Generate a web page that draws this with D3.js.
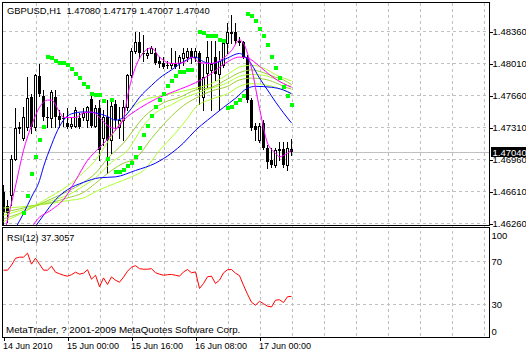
<!DOCTYPE html>
<html>
<head>
<meta charset="utf-8">
<script src="https://cdn.jsdelivr.net/npm/d3@7"></script>
<style>
  body { margin: 0; background: #fff; }
  svg { display: block; font-family: "Liberation Sans", Arial, sans-serif; }
</style>
</head>
<body>
<div id="chart"></div>
<script>
// GBPUSD H1 candles, bar 0 = 14 Jun 2010 08:00
const opens = [
  1.4660, 1.4645, 1.4657, 1.4697, 1.4732, 1.4720, 1.4731, 1.4764, 1.4731, 1.4787,
  1.4766, 1.4743, 1.4741, 1.4764, 1.4744, 1.4741, 1.4736, 1.4733, 1.4733, 1.4741,
  1.4743, 1.4739, 1.4762, 1.4733, 1.4752, 1.4720, 1.4742, 1.4717, 1.4757, 1.4731,
  1.4739, 1.4753, 1.4788, 1.4815, 1.4824, 1.4813, 1.4810, 1.4813, 1.4813, 1.4804,
  1.4802, 1.4799, 1.4799, 1.4801, 1.4802, 1.4807, 1.4808, 1.4815, 1.4808, 1.4813,
  1.4764, 1.4791, 1.4794, 1.4808, 1.4790, 1.4799, 1.4823, 1.4834, 1.4835, 1.4826,
  1.4824, 1.4808, 1.4761, 1.4733, 1.4717, 1.4736, 1.4709, 1.4695, 1.4690, 1.4706,
  1.4708, 1.4690, 1.47080
];
const highs = [
  1.4668, 1.4652, 1.4701, 1.4752, 1.4737, 1.4753, 1.4786, 1.4768, 1.4790, 1.4801,
  1.4772, 1.4753, 1.4772, 1.4772, 1.4750, 1.4747, 1.4752, 1.4741, 1.4753, 1.4747,
  1.4752, 1.4755, 1.4766, 1.4756, 1.4761, 1.4750, 1.4761, 1.4763, 1.4761, 1.4753,
  1.4761, 1.4790, 1.4818, 1.4835, 1.4835, 1.4832, 1.4818, 1.4820, 1.4818, 1.4808,
  1.4808, 1.4804, 1.4818, 1.4815, 1.4810, 1.4818, 1.4818, 1.4818, 1.4818, 1.4815,
  1.4801, 1.4826, 1.4826, 1.4826, 1.4815, 1.4826, 1.4845, 1.4854, 1.4845, 1.4830,
  1.4826, 1.4810, 1.4763, 1.4736, 1.4736, 1.4739, 1.4712, 1.4709, 1.4709, 1.4715,
  1.4715, 1.4715, 1.47179
];
const lows = [
  1.4625, 1.4628, 1.4646, 1.4695, 1.4725, 1.4717, 1.4728, 1.4725, 1.4728, 1.4766,
  1.4739, 1.4731, 1.4731, 1.4731, 1.4731, 1.4733, 1.4730, 1.4730, 1.4731, 1.4730,
  1.4739, 1.4731, 1.4731, 1.4731, 1.4695, 1.4712, 1.4681, 1.4703, 1.4728, 1.4719,
  1.4717, 1.4750, 1.4786, 1.4812, 1.4807, 1.4804, 1.4807, 1.4812, 1.4801, 1.4797,
  1.4796, 1.4796, 1.4796, 1.4796, 1.4796, 1.4799, 1.4804, 1.4802, 1.4804, 1.4757,
  1.4750, 1.4775, 1.4750, 1.4783, 1.4750, 1.4797, 1.4812, 1.4823, 1.4823, 1.4821,
  1.4807, 1.4759, 1.4728, 1.4717, 1.4715, 1.4708, 1.4687, 1.4688, 1.4688, 1.4695,
  1.4688, 1.4684, 1.47007
];
const closes = [
  1.4638, 1.4638, 1.4697, 1.4730, 1.4729, 1.4742, 1.4763, 1.4731, 1.4788, 1.4768,
  1.4742, 1.4741, 1.4770, 1.4742, 1.4739, 1.4740, 1.4731, 1.4735, 1.4750, 1.4731,
  1.4747, 1.4753, 1.4733, 1.4752, 1.4706, 1.4742, 1.4717, 1.4755, 1.4739, 1.4739,
  1.4753, 1.4788, 1.4815, 1.4824, 1.4813, 1.4812, 1.4813, 1.4818, 1.4802, 1.4801,
  1.4797, 1.4798, 1.4802, 1.4797, 1.4808, 1.4813, 1.4815, 1.4807, 1.4815, 1.4772,
  1.4786, 1.4808, 1.4801, 1.4790, 1.4804, 1.4823, 1.4835, 1.4835, 1.4826, 1.4823,
  1.4808, 1.4761, 1.4730, 1.4728, 1.4733, 1.4709, 1.4693, 1.4690, 1.4706, 1.4708,
  1.4690, 1.4709, 1.47040
];

// moving averages, [bar, price]
const maMagentaFast = [[0,1.4611],[1,1.4630],[3,1.4667],[5,1.4706],[7,1.4733],[9,1.4753],[11,1.4761],[12,1.4761],[14,1.4748],[15,1.4742],[18,1.4742],[20,1.4747],[22,1.4748],[24,1.4742],[26,1.4733],[28,1.4730],[30,1.4741],[31,1.4765],[33,1.4797],[35,1.4813],[37,1.4818],[39,1.4808],[42,1.4801],[45,1.4802],[47,1.4808],[49,1.4802],[52,1.4801],[55,1.4807],[57,1.4815],[59,1.4827],[60,1.4823],[62,1.4796],[64,1.4752],[66,1.4714],[68,1.4703],[69,1.4699],[71,1.4703],[72,1.4706]];
const maMagentaSlow = [[7,1.4621],[8,1.4628],[12,1.4641],[15,1.4652],[18,1.4673],[21,1.4695],[24,1.4709],[27,1.4723],[30,1.4739],[34,1.4752],[38,1.4762],[43,1.4771],[48,1.4780],[52,1.4790],[55,1.4800],[59,1.4808],[61,1.4807],[64,1.4798],[67,1.4787],[70,1.4779],[72,1.4775]];
const maBlueFast = [[3,1.4621],[5,1.4637],[7,1.4655],[9,1.4673],[10,1.4688],[12,1.4712],[13,1.4723],[15,1.4739],[17,1.4746],[20,1.4748],[23,1.4747],[26,1.4743],[28,1.4739],[30,1.4742],[32,1.4752],[34,1.4764],[37,1.4777],[39,1.4785],[42,1.4794],[45,1.4803],[48,1.4808],[50,1.4803],[52,1.4801],[54,1.4803],[56,1.4807],[59,1.4812],[60,1.4810],[62,1.4800],[64,1.4785],[66,1.4772],[68,1.4759],[70,1.4747],[72,1.4736]];
const maBlueSlow = [[8,1.4623],[10,1.4635],[13,1.4652],[16,1.4663],[20,1.4671],[24,1.4676],[28,1.4677],[33,1.4684],[38,1.4692],[42,1.4703],[45,1.4714],[48,1.4728],[51,1.4739],[55,1.4753],[58,1.4763],[61,1.4774],[63,1.4776],[67,1.4775],[70,1.4772],[72,1.4768]];
const maGreen1 = [[0,1.4628],[4,1.4636],[8,1.4646],[12,1.4656],[16,1.4667],[20,1.4682],[23,1.4695],[26,1.4715],[29,1.4735],[31,1.4747],[35,1.4761],[40,1.4766],[44,1.4770],[48,1.4774],[52,1.4779],[56,1.4789],[59,1.4797],[62,1.4799],[65,1.4796],[68,1.4789],[70,1.4785],[72,1.4782]];
const maGreen2 = [[0,1.4631],[4,1.4637],[8,1.4645],[12,1.4653],[16,1.4661],[20,1.4671],[23,1.4681],[26,1.4697],[30,1.4714],[35,1.4742],[40,1.4758],[44,1.4764],[48,1.4772],[52,1.4775],[56,1.4784],[59,1.4791],[62,1.4794],[65,1.4791],[68,1.4786],[70,1.4783],[72,1.4778]];
const maGreen3 = [[0,1.4635],[4,1.4640],[8,1.4645],[12,1.4651],[16,1.4657],[20,1.4667],[23,1.4676],[27,1.4693],[31,1.4706],[35,1.4733],[38,1.4747],[42,1.4756],[45,1.4763],[48,1.4768],[52,1.4774],[56,1.4780],[59,1.4787],[62,1.4789],[65,1.4788],[68,1.4784],[70,1.4779],[72,1.4776]];
const maGreen4 = [[0,1.4638],[4,1.4642],[8,1.4646],[12,1.4649],[16,1.4654],[20,1.4660],[23,1.4670],[27,1.4684],[30,1.4692],[33,1.4697],[37,1.4719],[41,1.4739],[45,1.4755],[48,1.4763],[52,1.4771],[56,1.4776],[59,1.4783],[62,1.4785],[65,1.4784],[68,1.4780],[70,1.4776],[72,1.4773]];
const maGreen5 = [[0,1.4643],[4,1.4644],[8,1.4646],[12,1.4648],[16,1.4651],[20,1.4654],[24,1.4663],[28,1.4670],[32,1.4677],[35,1.4684],[39,1.4706],[43,1.4725],[46,1.4741],[48,1.4753],[52,1.4762],[56,1.4768],[59,1.4776],[62,1.4779],[65,1.4778],[68,1.4775],[70,1.4772],[72,1.4768]];

// parabolic SAR, [bar, price]
const sar = [
  [5,1.4637],[6,1.4656],[7,1.4680],[8,1.4699],[9,1.4717],[10,1.4731],
  [11,1.4808],[12,1.4807],[13,1.4804],[14,1.4802],[15,1.4802],[16,1.4799],[17,1.4795],[18,1.4790],
  [19,1.4785],[20,1.4779],[21,1.4775],[22,1.4768],[23,1.4767],[24,1.4767],[25,1.4760],
  [26,1.4697],[27,1.4761],
  [28,1.4682],[29,1.4682],[30,1.4685],[31,1.4689],[32,1.4692],[33,1.4699],[34,1.4709],[35,1.4723],
  [36,1.4733],[37,1.4744],[38,1.4753],[39,1.4761],[40,1.4768],[41,1.4776],[42,1.4782],[43,1.4787],
  [44,1.4792],[45,1.4792],[46,1.4794],[47,1.4794],
  [49,1.4836],[50,1.4834],[51,1.4831],[52,1.4831],[53,1.4831],[54,1.4827],[55,1.4826],
  [56,1.4752],[57,1.4753],[58,1.4758],[59,1.4761],[60,1.4765],
  [61,1.4855],[62,1.4853],[63,1.4847],[64,1.4839],[65,1.4831],[66,1.4821],[67,1.4808],[68,1.4796],
  [69,1.4785],[70,1.4775],[71,1.4765],[72,1.4756]
];

// RSI(12)
const rsi = [
  61.7, 61.7, 66.3, 72.8, 73.8, 73.8, 77.5, 67.3, 72.8, 67.3,
  61.7, 61.7, 65.4, 59.8, 58.4, 57.0, 56.1, 57.5, 59.8, 58.0,
  58.9, 62.1, 53.3, 57.0, 46.3, 54.5, 48.4, 55.4, 52.4, 50.5,
  55.2, 60.7, 64.5, 65.9, 63.1, 62.6, 62.6, 63.1, 59.3, 58.0,
  57.0, 57.5, 57.7, 57.0, 56.1, 60.1, 62.3, 59.3, 60.1, 44.7,
  49.3, 55.6, 56.1, 49.3, 52.4, 59.2, 62.1, 62.3, 58.9, 56.6,
  47.7, 39.3, 31.9, 29.1, 32.8, 30.5, 28.2, 27.5, 33.8, 34.2,
  31.6, 37.0, 37.3057
];

const priceTicks = [1.4626, 1.4661, 1.4696, 1.4731, 1.4766, 1.4801, 1.4836];
const rsiTicks = [100, 70, 30, 0];
const rsiLevels = [70, 30];
const timeTickBars = [0, 16, 32, 48, 64];
const timeLabels = ["14 Jun 2010", "15 Jun 00:00", "15 Jun 16:00", "16 Jun 08:00", "17 Jun 00:00"];
const gridBars = d3.range(8, 121, 8);

const width = 526;
const height = 354;
const panel = { left: 2.5, right: 489.5, top: 2.5, bottom: 225.5, rsiTop: 227.5, rsiBottom: 337.5 };

const svg = d3.select("#chart").append("svg")
  .attr("width", width)
  .attr("height", height);

// scales
const x = d3.scaleLinear().domain([0, 1]).range([3.5, 7.5]);
const y = d3.scaleLinear().domain([1.4626, 1.4836]).range([223.5, 31.5]);
const yr = d3.scaleLinear().domain([0, 100]).range([336.5, 229]);

const gridColor = "#c0c0c0";

// vertical grid in both panels
svg.append("g")
  .selectAll("line")
  .data(gridBars)
  .join("line")
  .attr("x1", (d) => Math.round(x(d)) + 0.5)
  .attr("x2", (d) => Math.round(x(d)) + 0.5)
  .attr("y1", panel.top)
  .attr("y2", panel.rsiBottom)
  .attr("stroke", gridColor)
  .attr("stroke-dasharray", "3,3")
  .attr("shape-rendering", "crispEdges");

// horizontal grid, price panel
svg.append("g")
  .selectAll("line")
  .data(priceTicks)
  .join("line")
  .attr("x1", panel.left)
  .attr("x2", panel.right)
  .attr("y1", (d) => Math.round(y(d) - 0.5) + 0.5)
  .attr("y2", (d) => Math.round(y(d) - 0.5) + 0.5)
  .attr("stroke", gridColor)
  .attr("stroke-dasharray", "3,3")
  .attr("shape-rendering", "crispEdges");

// horizontal grid, RSI levels
svg.append("g")
  .selectAll("line")
  .data(rsiLevels)
  .join("line")
  .attr("x1", panel.left)
  .attr("x2", panel.right)
  .attr("y1", (d) => Math.round(yr(d) - 0.5) + 0.5)
  .attr("y2", (d) => Math.round(yr(d) - 0.5) + 0.5)
  .attr("stroke", gridColor)
  .attr("stroke-dasharray", "3,3")
  .attr("shape-rendering", "crispEdges");

// last price line
const lastClose = closes[closes.length - 1];
const lastY = Math.round(y(lastClose) - 0.5) + 0.5;
svg.append("line")
  .attr("x1", panel.left)
  .attr("x2", panel.right)
  .attr("y1", lastY)
  .attr("y2", lastY)
  .attr("stroke", gridColor)
  .attr("shape-rendering", "crispEdges");

// clip for the price panel
svg.append("clipPath").attr("id", "mainClip")
  .append("rect")
  .attr("x", panel.left + 0.5)
  .attr("y", panel.top + 0.5)
  .attr("width", panel.right - panel.left - 1)
  .attr("height", panel.bottom - panel.top - 1);

const main = svg.append("g").attr("clip-path", "url(#mainClip)");

// candles
const bars = d3.range(opens.length).map((i) => ({
  i, o: opens[i], h: highs[i], l: lows[i], c: closes[i]
}));

const candle = main.append("g").selectAll("g")
  .data(bars)
  .join("g");

candle.append("line")
  .attr("x1", (d) => x(d.i))
  .attr("x2", (d) => x(d.i))
  .attr("y1", (d) => Math.round(y(d.h)))
  .attr("y2", (d) => Math.round(y(d.l)) + 1)
  .attr("stroke", "#000")
  .attr("shape-rendering", "crispEdges");

candle.append("rect")
  .attr("x", (d) => (d.c >= d.o ? x(d.i) - 1 : x(d.i) - 1.5))
  .attr("y", (d) => Math.round(y(Math.max(d.o, d.c))) + (d.c >= d.o ? 0.5 : 0))
  .attr("width", (d) => (d.c >= d.o ? 2 : 3))
  .attr("height", (d) => Math.max(1, Math.round(y(Math.min(d.o, d.c))) - Math.round(y(Math.max(d.o, d.c)))))
  .attr("fill", (d) => (d.c >= d.o ? "#fff" : "#000"))
  .attr("stroke", (d) => (d.c >= d.o ? "#000" : "none"))
  .attr("shape-rendering", "crispEdges");

// moving averages
const maLine = d3.line()
  .x((d) => x(d[0]))
  .y((d) => y(d[1]))
  .curve(d3.curveMonotoneX);

const maSeries = [
  { data: maGreen5, color: "#adff2f" },
  { data: maGreen4, color: "#9acd32" },
  { data: maGreen3, color: "#adff2f" },
  { data: maGreen2, color: "#9acd32" },
  { data: maGreen1, color: "#adff2f" },
  { data: maBlueSlow, color: "#0000ff" },
  { data: maMagentaSlow, color: "#ff00ff" },
  { data: maBlueFast, color: "#0000ff" },
  { data: maMagentaFast, color: "#ff00ff" }
];

main.append("g")
  .selectAll("path")
  .data(maSeries)
  .join("path")
  .attr("d", (d) => maLine(d.data))
  .attr("fill", "none")
  .attr("stroke", (d) => d.color)
  .attr("stroke-width", 1);

// parabolic SAR dots
main.append("g")
  .selectAll("rect")
  .data(sar)
  .join("rect")
  .attr("x", (d) => x(d[0]) - 2)
  .attr("y", (d) => Math.round(y(d[1])) - 2)
  .attr("width", 4)
  .attr("height", 4)
  .attr("fill", "#00ff00")
  .attr("shape-rendering", "crispEdges");

// RSI line
const rsiLine = d3.line()
  .x((d, i) => x(i))
  .y((d) => yr(d));

svg.append("path")
  .attr("d", rsiLine(rsi))
  .attr("fill", "none")
  .attr("stroke", "#ff0000")
  .attr("stroke-width", 1);

// panel frames
svg.append("rect")
  .attr("x", panel.left).attr("y", panel.top)
  .attr("width", panel.right - panel.left)
  .attr("height", panel.bottom - panel.top)
  .attr("fill", "none").attr("stroke", "#000")
  .attr("shape-rendering", "crispEdges");

svg.append("rect")
  .attr("x", panel.left).attr("y", panel.rsiTop)
  .attr("width", panel.right - panel.left)
  .attr("height", panel.rsiBottom - panel.rsiTop)
  .attr("fill", "none").attr("stroke", "#000")
  .attr("shape-rendering", "crispEdges");

// price axis
const priceAxis = svg.append("g")
  .attr("transform", `translate(${panel.right},0)`)
  .call(d3.axisRight(y).tickValues(priceTicks).tickFormat(d3.format(".5f")).tickSize(3).tickPadding(0));
priceAxis.select(".domain").remove();
priceAxis.selectAll("line").attr("shape-rendering", "crispEdges");
priceAxis.selectAll("text")
  .attr("font-family", "Liberation Sans, Arial, sans-serif")
  .attr("font-size", 9.5)
  .attr("fill", "#000");

// last price box
const lastBox = svg.append("g").attr("transform", `translate(491,${lastY})`);
lastBox.append("rect")
  .attr("x", 0).attr("y", -5.5)
  .attr("width", 35).attr("height", 10)
  .attr("fill", "#000");
lastBox.append("text")
  .attr("x", 1.5).attr("y", 0).attr("dy", "0.32em")
  .attr("font-size", 9.5)
  .attr("fill", "#fff")
  .text(d3.format(".5f")(lastClose));

// RSI axis
const rsiAxis = svg.append("g")
  .attr("transform", `translate(${panel.right},0)`)
  .call(d3.axisRight(yr).tickValues(rsiTicks).tickSize(0).tickPadding(2));
rsiAxis.select(".domain").remove();
rsiAxis.selectAll("text")
  .attr("font-family", "Liberation Sans, Arial, sans-serif")
  .attr("font-size", 9.5)
  .attr("fill", "#000")
  .attr("dy", (d) => (d === 100 ? "0.95em" : d === 0 ? "-0.25em" : "0.32em"));

// time axis
const timeAxis = svg.append("g")
  .attr("transform", `translate(0,${panel.rsiBottom})`)
  .call(d3.axisBottom(x).tickValues(timeTickBars).tickFormat((d, i) => timeLabels[i]).tickSize(3).tickPadding(2.5));
timeAxis.select(".domain").remove();
timeAxis.selectAll("line").attr("shape-rendering", "crispEdges");
timeAxis.selectAll("text")
  .attr("font-family", "Liberation Sans, Arial, sans-serif")
  .attr("font-size", 9)
  .attr("fill", "#000")
  .attr("text-anchor", "start")
  .attr("x", -1);

// titles
const fmt5 = d3.format(".5f");
const last = opens.length - 1;
svg.append("text")
  .attr("x", 7).attr("y", 13.5)
  .attr("font-size", 9.4)
  .attr("xml:space", "preserve")
  .text(`GBPUSD,H1  ${fmt5(opens[last])} ${fmt5(highs[last])} ${fmt5(lows[last])} ${fmt5(closes[last])}`);

svg.append("text")
  .attr("x", 7).attr("y", 241)
  .attr("font-size", 9.2)
  .text(`RSI(12) ${rsi[rsi.length - 1].toFixed(4)}`);

svg.append("text")
  .attr("x", 6).attr("y", 333)
  .attr("font-size", 9.8)
  .text("MetaTrader, ? 2001-2009 MetaQuotes Software Corp.");
</script>
</body>
</html>
